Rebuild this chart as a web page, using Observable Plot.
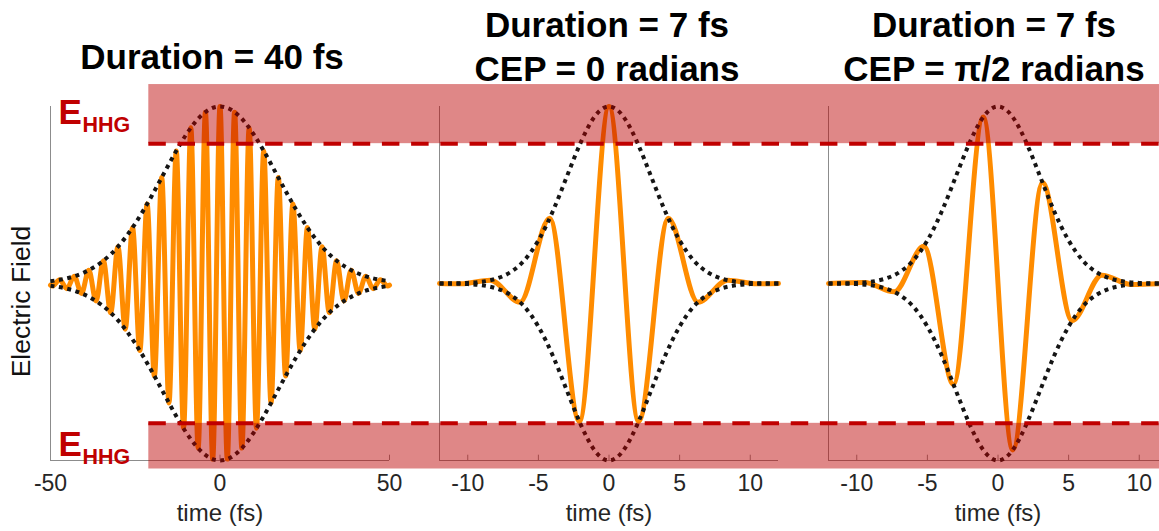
<!DOCTYPE html>
<html><head><meta charset="utf-8">
<script src="https://cdn.jsdelivr.net/npm/d3@7"></script>
<script src="https://cdn.jsdelivr.net/npm/@observablehq/plot@0.6"></script>
<style>
html,body{margin:0;padding:0;background:#fff;overflow:hidden;}
#chart{position:relative;width:1159px;height:531px;overflow:hidden;background:#fff;}
#chart svg{position:absolute;top:0;max-width:none;}
</style></head><body><div id="chart"></div>
<script>
// ---------- data ----------
const titles = ["Duration = 40 fs", "Duration = 7 fs\nCEP = 0 radians", "Duration = 7 fs\nCEP = π/2 radians"];
const xDomains = [[-50, 50], [-12, 12], [-12, 12]];
const xTicks = [[-50, 0, 50], [-10, -5, 0, 5, 10], [-10, -5, 0, 5, 10]];
const xLabel = "time (fs)";
const yLabel = "Electric Field";
const thresholdLabel = ["E", "HHG"];
const eHHG = [0.79, -0.79];
const bandTop = [0.79, 1.124];
const bandBottom = [-1.048, -0.79];

// 40 fs pulse: extrema (time, field)
const pulse40Time = [-50, -49.45, -47.3, -45.15, -43, -40.85, -38.7, -36.55, -34.4, -32.25, -30.1, -27.95, -25.8, -23.65, -21.5, -19.35, -17.2, -15.05, -12.9, -10.75, -8.6, -6.45, -4.3, -2.15, 0, 2.15, 4.3, 6.45, 8.6, 10.75, 12.9, 15.05, 17.2, 19.35, 21.5, 23.65, 25.8, 27.95, 30.1, 32.25, 34.4, 36.55, 38.7, 40.85, 43, 45.15, 47.3, 49.45, 50];
const pulse40Field = [-0.009, -0.014, 0.021, -0.029, 0.041, -0.056, 0.075, -0.099, 0.129, -0.165, 0.208, -0.258, 0.316, -0.379, 0.449, -0.523, 0.599, -0.675, 0.749, -0.818, 0.880, -0.930, 0.968, -0.992, 1.0, -0.992, 0.968, -0.930, 0.880, -0.818, 0.749, -0.675, 0.599, -0.523, 0.449, -0.379, 0.316, -0.258, 0.208, -0.165, 0.129, -0.099, 0.075, -0.056, 0.041, -0.029, 0.021, -0.014, -0.009];
const env40Time = [-50, -45, -40, -35, -30, -25, -20, -15, -10, -5, 0, 5, 10, 15, 20, 25, 30, 35, 40, 45, 50];
const env40Value = [0.013, 0.030, 0.063, 0.120, 0.210, 0.339, 0.500, 0.677, 0.841, 0.958, 1, 0.958, 0.841, 0.677, 0.500, 0.339, 0.210, 0.120, 0.063, 0.030, 0.013];

// 7 fs pulse, CEP = 0
const pulseCep0Time = [-12, -10.5, -8.4, -6.3, -4.2, -2.1, 0, 2.1, 4.2, 6.3, 8.4, 10.5, 12];
const pulseCep0Field = [0, -0.002, 0.019, -0.106, 0.369, -0.779, 1.0, -0.779, 0.369, -0.106, 0.019, -0.002, 0];
// 7 fs pulse, CEP = pi/2
const pulseCep90Time = [-12, -9.45, -7.35, -5.25, -3.15, -1.05, 1.05, 3.15, 5.25, 7.35, 9.45, 12];
const pulseCep90Field = [0, 0.006, -0.047, 0.210, -0.570, 0.940, -0.940, 0.570, -0.210, 0.047, -0.006, 0];
const env7Time = [-12, -11, -10, -9, -8, -7, -6, -5, -4, -3, -2, -1, 0, 1, 2, 3, 4, 5, 6, 7, 8, 9, 10, 11, 12];
const env7Value = [0.0003, 0.0011, 0.0035, 0.0102, 0.0268, 0.0625, 0.130, 0.243, 0.404, 0.601, 0.797, 0.945, 1, 0.945, 0.797, 0.601, 0.404, 0.243, 0.130, 0.0625, 0.0268, 0.0102, 0.0035, 0.0011, 0.0003];

const pulseTimes = [pulse40Time, pulseCep0Time, pulseCep90Time];
const pulseFields = [pulse40Field, pulseCep0Field, pulseCep90Field];
const envTimes = [env40Time, env7Time, env7Time];
const envValues = [env40Value, env7Value, env7Value];

// ---------- layout / style ----------
const layout = [
  {left: 0, width: 414, ml: 50, mr: 25, titleDx: -8, titleDy: -38, band: [-21, 60], dashOffset: 0},
  {left: 414, width: 389, ml: 25, mr: 25, titleDx: -2, titleDy: -26, band: [-15, 15], dashOffset: 14.7},
  {left: 803, width: 389, ml: 25, mr: 25, titleDx: -4, titleDy: -26, band: [-15, 15], dashOffset: 24.1}
];
const FONT = "'Liberation Sans', Arial, Helvetica, sans-serif";
const axisGray = "#8c8c8c";
const textGray = "#262626";
const orange = "#ff8c00";
const darkRed = "#c00000";
const envStyle = {curve: "natural", stroke: "#151515", strokeWidth: 4, strokeDasharray: "4 4.5", strokeLinecap: "butt"};

function panel(i) {
  const L = layout[i];
  const pulse = d3.zip(pulseTimes[i], pulseFields[i]).map(([t, e]) => ({t, e}));
  const env = d3.zip(envTimes[i], envValues[i]).map(([t, v]) => ({t, v}));
  const [x0, x1] = xDomains[i];
  const marks = [
    Plot.ruleX([x0], {y1: -1, y2: 1, stroke: axisGray, strokeWidth: 1}),
    Plot.ruleY([-1], {x1: x0, x2: x1, stroke: axisGray, strokeWidth: 1}),
    Plot.ruleX(xTicks[i], {x: d => d, y1: -1, y2: -0.97, stroke: axisGray, strokeWidth: 1}),
    Plot.axisX({ticks: xTicks[i], tickSize: 0, tickPadding: 14, tickFormat: d => String(d), fontSize: 23, fill: textGray, label: null}),
    Plot.text([xLabel], {text: d => d, frameAnchor: "bottom", dy: 60, fontSize: 24, fill: textGray}),
    Plot.line(pulse, {x: "t", y: "e", curve: "monotone-x", stroke: orange, strokeWidth: 5}),
    Plot.line(env, {x: "t", y: "v", ...envStyle}),
    Plot.line(env, {x: "t", y: d => -d.v, ...envStyle}),
    Plot.rect([bandTop, bandBottom], {x1: L.band[0], x2: L.band[1], y1: d => d[0], y2: d => d[1], fill: "#bc0000", fillOpacity: 0.47}),
    Plot.ruleY(eHHG, {x1: L.band[0], x2: L.band[1], stroke: darkRed, strokeWidth: 4, strokeDasharray: "17.5 11.7", strokeDashoffset: L.dashOffset, strokeLinecap: "butt"}),
    Plot.text([titles[i]], {text: d => d, frameAnchor: "top", textAnchor: "middle", lineAnchor: "bottom", lineHeight: 1.23, dx: L.titleDx, dy: L.titleDy, fontSize: 35, fontWeight: "bold", fill: "#000"})
  ];
  if (i === 0) {
    marks.push(
      Plot.text([yLabel], {text: d => d, frameAnchor: "left", textAnchor: "middle", lineAnchor: "middle", rotate: -90, dx: -29, dy: 18, fontSize: 26.5, fill: "#111"}),
      Plot.text([thresholdLabel[0]], {text: d => d, frameAnchor: "top-left", textAnchor: "start", lineAnchor: "bottom", dx: 8, dy: 17, fontSize: 35, fontWeight: "bold", fill: darkRed}),
      Plot.text([thresholdLabel[1]], {text: d => d, frameAnchor: "top-left", textAnchor: "start", lineAnchor: "bottom", dx: 32, dy: 25, fontSize: 21.5, fontWeight: "bold", fill: darkRed}),
      Plot.text([thresholdLabel[0]], {text: d => d, frameAnchor: "bottom-left", textAnchor: "start", lineAnchor: "bottom", dx: 8, dy: -5, fontSize: 35, fontWeight: "bold", fill: darkRed}),
      Plot.text([thresholdLabel[1]], {text: d => d, frameAnchor: "bottom-left", textAnchor: "start", lineAnchor: "bottom", dx: 32, dy: 3, fontSize: 21.5, fontWeight: "bold", fill: darkRed})
    );
  }
  const svg = Plot.plot({
    width: L.width, height: 531,
    marginTop: 106, marginBottom: 71, marginLeft: L.ml, marginRight: L.mr,
    x: {domain: xDomains[i]},
    y: {domain: [-1, 1], axis: null},
    style: {fontFamily: FONT, overflow: "hidden", background: "transparent", maxWidth: "none", color: textGray},
    marks
  });
  svg.style.left = L.left + "px";
  return svg;
}

const chart = document.getElementById("chart");
for (let i = 0; i < 3; i++) chart.appendChild(panel(i));
</script>
</body></html>
